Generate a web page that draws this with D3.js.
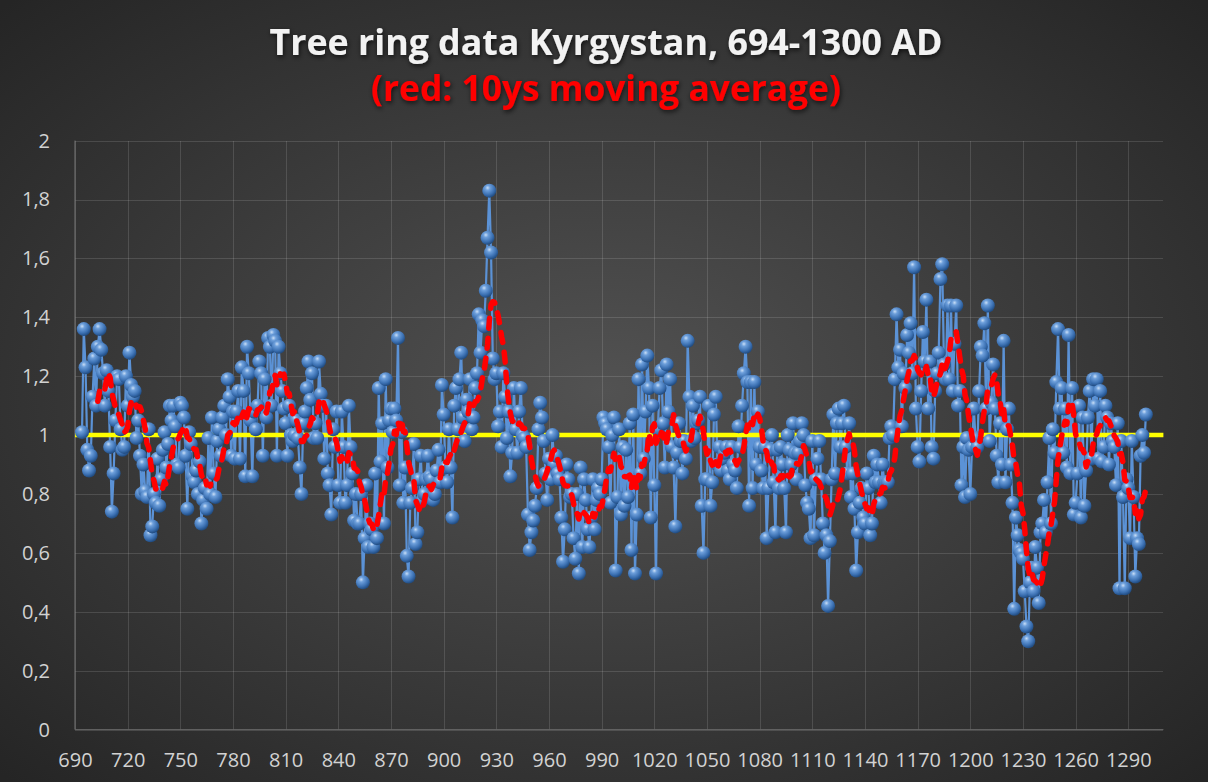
<!DOCTYPE html>
<html>
<head>
<meta charset="utf-8">
<title>Tree ring data Kyrgystan</title>
<style>
	body { margin: 0; background: #2b2b2b; }
	.grid line { stroke: #ffffff; stroke-opacity: 0.13; shape-rendering: crispEdges; }
	.grid path { display: none; }
	.axis path { display: none; }
	.axis line { display: none; }
	.axis text { fill: #d2d2d2; font-family: "Open Sans", sans-serif; font-size: 20px; }
</style>
</head>
<body>
<script src="https://d3js.org/d3.v7.min.js"></script>
<script>
// tree ring index, one value per year, 694 .. 1300 AD
var firstYear = 694;
var ringIndex = [
	1.01, 1.36, 1.23, 0.95, 0.88, 0.93, 1.13,
	1.26, 1.10, 1.30, 1.36, 1.29, 1.21, 1.10, 1.22, 1.15, 0.96,
	0.74, 0.87, 1.05, 1.20, 1.19, 1.02, 0.95, 0.96, 1.20, 1.10,
	1.28, 1.17, 1.13, 1.15, 0.99, 1.05, 0.93, 0.80, 0.90, 0.81,
	0.79, 1.02, 0.66, 0.69, 0.80, 0.77, 0.92, 0.76, 0.85, 0.95,
	1.01, 0.89, 0.97, 1.10, 1.05, 1.10, 1.03, 0.90, 0.89, 1.11,
	1.10, 1.06, 0.93, 0.75, 1.01, 0.97, 0.86, 0.84, 0.88, 0.80,
	0.91, 0.70, 0.78, 0.82, 0.75, 0.99, 0.80, 1.06, 0.87, 0.79,
	0.98, 1.02, 0.93, 1.06, 1.10, 1.00, 1.19, 1.13, 0.93, 1.08,
	0.92, 1.08, 1.15, 0.92, 1.23, 1.15, 0.86, 1.30, 1.21, 1.05,
	0.86, 1.08, 1.02, 1.10, 1.25, 1.21, 0.93, 1.19, 1.06, 1.33,
	1.30, 1.10, 1.34, 1.32, 0.93, 1.30, 1.21, 1.15, 1.09, 1.04,
	0.93, 1.10, 1.00, 0.98, 1.00, 1.05, 0.99, 0.89, 0.80, 1.04,
	1.08, 1.16, 1.25, 1.12, 1.21, 0.99, 1.04, 0.99, 1.25, 1.14,
	1.10, 0.92, 1.10, 0.87, 0.83, 0.73, 1.02, 0.96, 1.08, 0.83,
	0.77, 1.08, 0.96, 0.77, 0.83, 1.10, 0.96, 0.87, 0.71, 0.80,
	0.70, 0.70, 0.80, 0.50, 0.65, 0.83, 0.62, 0.70, 0.68, 0.62,
	0.87, 0.65, 1.16, 0.91, 1.04, 0.70, 1.19, 0.89, 1.05, 1.09,
	1.01, 1.09, 1.05, 1.33, 0.83, 1.01, 0.77, 0.89, 0.59, 0.52,
	0.77, 0.82, 0.97, 0.63, 0.67, 0.85, 0.93, 0.78, 0.80, 0.85,
	0.93, 0.86, 0.85, 0.78, 0.80, 0.88, 0.95, 0.84, 1.17, 1.07,
	0.89, 0.84, 1.02, 0.89, 0.72, 1.10, 1.16, 1.02, 1.19, 1.28,
	1.06, 0.98, 1.12, 1.08, 1.19, 1.02, 1.06, 1.16, 1.21, 1.41,
	1.28, 1.39, 1.37, 1.49, 1.67, 1.83, 1.62, 1.26, 1.19, 1.21,
	1.03, 1.08, 0.96, 1.21, 1.13, 0.99, 1.08, 0.86, 0.94, 1.16,
	1.02, 0.94, 1.08, 1.16, 1.00, 0.99, 0.96, 0.73, 0.61, 0.67,
	0.71, 0.76, 0.82, 1.02, 1.11, 1.06, 0.98, 0.87, 0.78, 0.92,
	0.85, 1.00, 0.90, 0.93, 0.87, 0.85, 0.72, 0.57, 0.68, 0.90,
	0.85, 0.79, 0.80, 0.65, 0.58, 0.80, 0.53, 0.89, 0.62, 0.85,
	0.78, 0.68, 0.62, 0.72, 0.85, 0.68, 0.78, 0.82, 0.80, 0.85,
	1.06, 1.04, 1.02, 0.96, 0.77, 1.00, 1.06, 0.54, 0.79, 1.02,
	0.73, 0.96, 0.76, 0.95, 0.79, 1.04, 0.61, 1.07, 0.53, 0.73,
	1.19, 0.87, 1.24, 0.92, 1.08, 1.27, 1.16, 0.72, 1.10, 0.83,
	0.53, 1.02, 1.16, 1.22, 1.04, 0.89, 1.24, 1.08, 1.19, 0.96,
	0.89, 0.69, 0.94, 1.04, 0.98, 0.87, 0.98, 0.92, 1.32, 1.13,
	0.98, 1.10, 0.99, 1.04, 1.05, 1.13, 0.76, 0.60, 0.85, 0.85,
	1.10, 0.76, 0.84, 1.07, 1.13, 0.90, 0.96, 0.88, 0.92, 0.94,
	0.96, 0.88, 0.85, 0.96, 0.90, 0.88, 0.82, 1.03, 0.96, 1.10,
	1.21, 1.30, 1.18, 0.76, 1.18, 0.82, 1.18, 0.90, 1.08, 0.96,
	0.88, 0.82, 0.96, 0.65, 0.82, 0.95, 1.00, 0.84, 0.67, 0.95,
	0.82, 0.96, 0.90, 0.82, 0.67, 1.00, 0.95, 0.90, 1.04, 0.94,
	0.85, 0.94, 0.98, 1.04, 1.00, 0.83, 0.77, 0.75, 0.65, 0.98,
	0.66, 0.85, 0.92, 0.98, 0.85, 0.70, 0.60, 0.66, 0.42, 0.64,
	0.85, 1.07, 0.87, 1.04, 1.09, 0.96, 1.04, 1.10, 0.96, 0.87,
	1.04, 0.79, 0.87, 0.75, 0.54, 0.67, 0.77, 0.82, 0.72, 0.70,
	0.87, 0.82, 0.66, 0.70, 0.93, 0.84, 0.90, 0.84, 0.77, 0.90,
	0.84, 0.84, 0.84, 0.99, 1.03, 1.00, 1.19, 1.41, 1.23, 1.29,
	1.03, 1.21, 1.16, 1.34, 1.28, 1.38, 1.21, 1.57, 1.09, 0.96,
	0.91, 1.15, 1.35, 1.25, 1.46, 1.09, 1.25, 0.96, 0.92, 1.15,
	1.21, 1.28, 1.53, 1.58, 1.24, 1.19, 1.44, 1.19, 1.44, 1.15,
	1.31, 1.44, 1.10, 1.15, 0.83, 0.96, 0.79, 0.99, 0.95, 0.80,
	0.96, 1.09, 0.99, 0.96, 1.15, 1.30, 1.27, 1.38, 1.09, 1.44,
	0.98, 1.11, 1.24, 1.09, 0.93, 0.84, 1.04, 0.90, 1.32, 0.84,
	1.02, 1.09, 0.90, 0.77, 0.41, 0.72, 0.66, 0.61, 0.60, 0.58,
	0.47, 0.35, 0.30, 0.50, 0.55, 0.47, 0.62, 0.55, 0.43, 0.67,
	0.70, 0.78, 0.67, 0.84, 0.99, 0.70, 1.02, 0.94, 1.18, 1.36,
	1.09, 1.16, 0.94, 1.09, 0.89, 1.34, 0.87, 1.16, 0.73, 0.77,
	0.87, 1.10, 0.72, 1.06, 0.76, 0.88, 1.06, 1.15, 0.92, 1.19,
	1.10, 1.19, 0.92, 1.15, 0.91, 0.96, 1.10, 1.06, 0.90, 1.04,
	0.98, 0.96, 0.83, 1.04, 0.48, 0.98, 0.79, 0.48, 0.85, 0.82,
	0.65, 0.98, 0.79, 0.52, 0.65, 0.63, 0.93, 1.00, 0.94, 1.07
];
var xTicks = [690, 720, 750, 780, 810, 840, 870, 900, 930, 960, 990,
	1020, 1050, 1080, 1110, 1140, 1170, 1200, 1230, 1260, 1290];
var yTicks = [0, 0.2, 0.4, 0.6, 0.8, 1, 1.2, 1.4, 1.6, 1.8, 2];
var reference = 1;	// yellow line
var maWindow = 10;	// years in the moving average

var data = ringIndex.map(function(v, i) { return {year: firstYear + i, value: v}; });

// trailing 10 year moving average (as the Excel trendline)
var movingAvg = [];
for (var i = maWindow - 1; i < data.length; i++) {
	var s = 0;
	for (var k = i - maWindow + 1; k <= i; k++) s += data[k].value;
	movingAvg.push({year: data[i].year, value: s / maWindow});
}

var W = 1208, H = 782;
var margin = {top: 140.6, right: 44.6, bottom: 52.4, left: 75};
var width = W - margin.left - margin.right,
	height = H - margin.top - margin.bottom;

var svgRoot = d3.select("body").append("svg")
	.attr("width", W)
	.attr("height", H);

var defs = svgRoot.append("defs");
var bg = defs.append("radialGradient").attr("id", "bg")
	.attr("cx", "50%").attr("cy", "50%").attr("r", "70%");
bg.append("stop").attr("offset", "0%").attr("stop-color", "#525252");
bg.append("stop").attr("offset", "100%").attr("stop-color", "#252525");

var ball = defs.append("radialGradient").attr("id", "ball")
	.attr("cx", "38%").attr("cy", "30%").attr("r", "70%");
ball.append("stop").attr("offset", "0%").attr("stop-color", "#c9def6");
ball.append("stop").attr("offset", "25%").attr("stop-color", "#6d9fdb");
ball.append("stop").attr("offset", "70%").attr("stop-color", "#3b70b2");
ball.append("stop").attr("offset", "100%").attr("stop-color", "#204b80");

var glow = defs.append("filter").attr("id", "glow")
	.attr("x", "-10%").attr("y", "-30%").attr("width", "120%").attr("height", "160%");
glow.append("feDropShadow").attr("dx", 1).attr("dy", 2)
	.attr("stdDeviation", 2.5).attr("flood-color", "#000").attr("flood-opacity", 0.7);

svgRoot.append("rect").attr("width", W).attr("height", H).attr("fill", "url(#bg)");

// titles
var title = svgRoot.append("text")
	.attr("x", 606).attr("y", 55)
	.attr("text-anchor", "middle")
	.attr("font-family", "Open Sans, sans-serif")
	.attr("font-weight", "bold")
	.attr("font-size", 32)
	.attr("fill", "#f2f2f2")
	.attr("filter", "url(#glow)")
	.text("Tree ring data Kyrgystan, 694-1300 AD");
var subtitle = svgRoot.append("text")
	.attr("x", 606).attr("y", 101)
	.attr("text-anchor", "middle")
	.attr("font-family", "Open Sans, sans-serif")
	.attr("font-weight", "bold")
	.attr("font-size", 30)
	.attr("fill", "#ff0000")
	.attr("filter", "url(#glow)")
	.text("(red: 10ys moving average)");

// shrink / grow the titles to the width they have in the original
function fitWidth(sel, target) {
	var w = sel.node().getComputedTextLength();
	sel.attr("font-size", +sel.attr("font-size") * target / w);
}
fitWidth(title, 673);
fitWidth(subtitle, 470);

var svg = svgRoot.append("g")
	.attr("transform", "translate(" + margin.left + "," + margin.top + ")");

var xScale = d3.scaleLinear().domain([690, 1310]).range([0, width]);
var yScale = d3.scaleLinear().domain([0, 2]).range([height, 0]);

// gridlines
svg.append("g").attr("class", "grid")
	.call(d3.axisLeft(yScale).tickValues(yTicks).tickSize(-width).tickFormat(""));
svg.append("g").attr("class", "grid")
	.attr("transform", "translate(0," + height + ")")
	.call(d3.axisBottom(xScale).tickValues(xTicks).tickSize(height).tickFormat(""))
	.selectAll("line").attr("y2", -height);

// axis lines
svg.append("line").attr("x1", 0).attr("x2", 0).attr("y1", 0).attr("y2", height)
	.attr("stroke", "#777").attr("stroke-width", 1);
svg.append("line").attr("x1", 0).attr("x2", width).attr("y1", height).attr("y2", height)
	.attr("stroke", "#666").attr("stroke-width", 1);

// tick labels
var comma = d3.formatLocale({decimal: ",", thousands: ".", grouping: [3], currency: ["", ""]}).format("~g");
svg.append("g").attr("class", "axis")
	.call(d3.axisLeft(yScale).tickValues(yTicks).tickSize(0).tickPadding(25).tickFormat(comma));
svg.append("g").attr("class", "axis")
	.attr("transform", "translate(0," + height + ")")
	.call(d3.axisBottom(xScale).tickValues(xTicks).tickSize(0).tickPadding(23).tickFormat(d3.format("d")));

// the ring index line
var line = d3.line()
	.x(function(d) { return xScale(d.year); })
	.y(function(d) { return yScale(d.value); });

svg.append("path")
	.datum(data)
	.attr("fill", "none")
	.attr("stroke", "#5b92d6")
	.attr("stroke-width", 2.2)
	.attr("d", line);

// yellow reference line at 1
svg.append("line")
	.attr("x1", 0).attr("x2", width)
	.attr("y1", yScale(reference)).attr("y2", yScale(reference))
	.attr("stroke", "#ffff00")
	.attr("stroke-width", 4.5);

// sphere markers
svg.selectAll(".dot")
	.data(data)
	.enter().append("circle")
	.attr("class", "dot")
	.attr("cx", function(d) { return xScale(d.year); })
	.attr("cy", function(d) { return yScale(d.value); })
	.attr("r", 7)
	.attr("fill", "url(#ball)");

// moving average
svg.append("path")
	.datum(movingAvg)
	.attr("fill", "none")
	.attr("stroke", "#ff0000")
	.attr("stroke-width", 5.5)
	.attr("stroke-dasharray", "10,10")
	.attr("stroke-linecap", "round")
	.attr("stroke-linejoin", "round")
	.attr("d", line);
</script>
</body>
</html>
